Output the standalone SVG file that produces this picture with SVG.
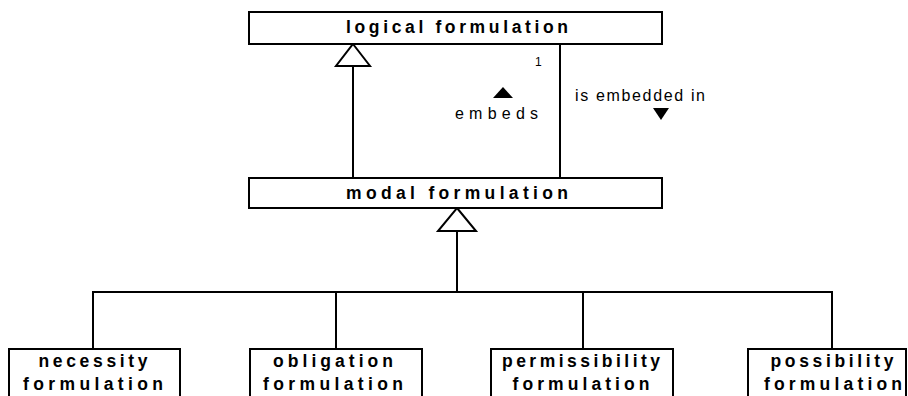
<svg xmlns="http://www.w3.org/2000/svg" width="908" height="396" viewBox="0 0 908 396">
<style>
.box{fill:#fff;stroke:#000;stroke-width:2}
.ln{fill:none;stroke:#000;stroke-width:2}
.tri{fill:#fff;stroke:#000;stroke-width:2;stroke-linejoin:miter}
.solid{fill:#000}
.t{font-family:"Liberation Sans",Arial,sans-serif;font-weight:bold;font-size:17.5px;text-anchor:middle;fill:#000}
.lbl{font-family:"Liberation Sans",Arial,sans-serif;font-size:16px;fill:#000}
</style>
<rect width="908" height="396" fill="#fff"/>
<g id="connectors">
<line class="ln" x1="353" y1="66" x2="353" y2="178"/>
<polygon class="tri" points="353,44 370,66 336,66"/>
<line class="ln" x1="560" y1="44" x2="560" y2="178"/>
<text class="lbl" x="535" y="66" style="font-size:12px">1</text>
<polygon class="solid" points="503,87 513,98 493,98"/>
<text class="lbl" x="455" y="119" textLength="83" lengthAdjust="spacing">embeds</text>
<text class="lbl" x="575" y="101" textLength="130" lengthAdjust="spacing">is embedded in</text>
<polygon class="solid" points="653,108 669,108 661,120"/>
<line class="ln" x1="457" y1="231" x2="457" y2="292"/>
<polygon class="tri" points="457,208 476,231 438,231"/>
<polyline class="ln" points="93,349 93,292 832,292 832,349"/>
<line class="ln" x1="336" y1="292" x2="336" y2="349"/>
<line class="ln" x1="583" y1="292" x2="583" y2="349"/>
</g>
<g id="logical">
<rect class="box" x="249" y="12" width="413" height="32"/>
<text class="t" x="457" y="33" textLength="222" lengthAdjust="spacing">logical formulation</text>
</g>
<g id="modal">
<rect class="box" x="249" y="178" width="413" height="30"/>
<text class="t" x="457" y="199" textLength="222" lengthAdjust="spacing">modal formulation</text>
</g>
<g id="necessity">
<rect class="box" x="9" y="349" width="171" height="60"/>
<text class="t" x="93" y="367" textLength="109" lengthAdjust="spacing">necessity</text>
<text class="t" x="93" y="390" textLength="140" lengthAdjust="spacing">formulation</text>
</g>
<g id="obligation">
<rect class="box" x="250" y="349" width="172" height="60"/>
<text class="t" x="333" y="367" textLength="120" lengthAdjust="spacing">obligation</text>
<text class="t" x="333" y="390" textLength="140" lengthAdjust="spacing">formulation</text>
</g>
<g id="permissibility">
<rect class="box" x="491" y="349" width="182" height="60"/>
<text class="t" x="581" y="367" textLength="158" lengthAdjust="spacing">permissibility</text>
<text class="t" x="581" y="390" textLength="137" lengthAdjust="spacing">formulation</text>
</g>
<g id="possibility">
<rect class="box" x="748" y="349" width="158" height="60"/>
<text class="t" x="832" y="367" textLength="123" lengthAdjust="spacing">possibility</text>
<text class="t" x="833" y="390" textLength="138" lengthAdjust="spacing">formulation</text>
</g>
</svg>
